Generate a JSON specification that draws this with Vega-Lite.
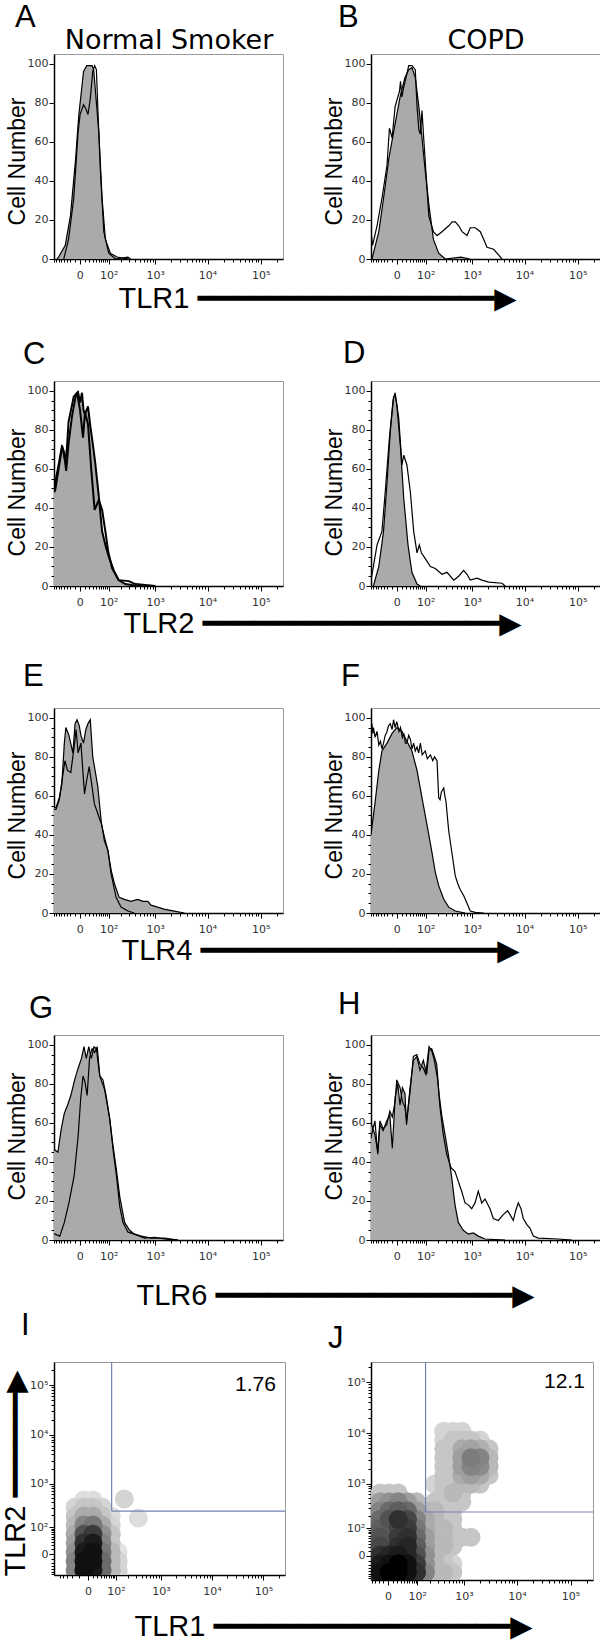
{
"$schema": "https://vega.github.io/schema/vega-lite/v6.json",
"autosize": {"type": "pad"},
"padding": {"top": 1, "left": 0, "right": 0, "bottom": 0},
"background": "white",
"datasets": {
"Ac": [{"x":-67,"y":0},{"x":-60,"y":1},{"x":-35,"y":7},{"x":-20,"y":22},{"x":-8,"y":51},{"x":-2,"y":73},{"x":7,"y":96},{"x":14,"y":99},{"x":28,"y":99},{"x":33,"y":97},{"x":51,"y":65},{"x":65,"y":31},{"x":81,"y":10},{"x":110,"y":3},{"x":160,"y":1},{"x":293,"y":0}],
"At": [{"x":-40,"y":0},{"x":-25,"y":10},{"x":-12,"y":31},{"x":-3,"y":65},{"x":0.5,"y":74},{"x":7,"y":79},{"x":12,"y":77},{"x":17,"y":74},{"x":23,"y":82},{"x":30,"y":96},{"x":36,"y":99},{"x":42,"y":97},{"x":48,"y":75},{"x":58,"y":44},{"x":73,"y":14},{"x":100,"y":3},{"x":147,"y":0},{"x":280,"y":1},{"x":320,"y":0}],
"Bc": [{"x":-77,"y":0},{"x":-47,"y":14},{"x":-31,"y":31},{"x":-16,"y":52},{"x":0,"y":74},{"x":7,"y":84},{"x":17,"y":93},{"x":27,"y":97},{"x":37,"y":98},{"x":49,"y":93},{"x":64,"y":78},{"x":79,"y":62},{"x":97,"y":45},{"x":120,"y":28},{"x":155,"y":10},{"x":205,"y":3},{"x":285,"y":0},{"x":600,"y":1},{"x":900,"y":0}],
"Bt": [{"x":-82,"y":14},{"x":-74,"y":7},{"x":-54,"y":17},{"x":-36,"y":31},{"x":-21,"y":48},{"x":-15,"y":67},{"x":-9,"y":62},{"x":-3,"y":78},{"x":5,"y":86},{"x":7,"y":91},{"x":10,"y":83},{"x":14,"y":88},{"x":22,"y":95},{"x":27,"y":99},{"x":37,"y":99},{"x":49,"y":97},{"x":56,"y":78},{"x":64,"y":66},{"x":71,"y":64},{"x":79,"y":76},{"x":88,"y":62},{"x":120,"y":22},{"x":155,"y":14},{"x":188,"y":12},{"x":243,"y":14},{"x":338,"y":17},{"x":400,"y":19},{"x":462,"y":19},{"x":542,"y":17},{"x":633,"y":14},{"x":794,"y":12},{"x":920,"y":16},{"x":1150,"y":16},{"x":1440,"y":14},{"x":1680,"y":10},{"x":1940,"y":6},{"x":2600,"y":5},{"x":3240,"y":2},{"x":3750,"y":0}],
"Cc": [{"x":-82,"y":48},{"x":-76,"y":49},{"x":-60,"y":60},{"x":-46,"y":71},{"x":-40,"y":69},{"x":-35,"y":63},{"x":-32,"y":59},{"x":-25,"y":73},{"x":-16,"y":87},{"x":-8,"y":97},{"x":-3,"y":99},{"x":0.5,"y":94},{"x":4,"y":99},{"x":7,"y":90},{"x":10,"y":88},{"x":17,"y":92},{"x":23,"y":82},{"x":30,"y":73},{"x":38,"y":63},{"x":51,"y":46},{"x":65,"y":28},{"x":81,"y":21},{"x":100,"y":15},{"x":134,"y":8},{"x":175,"y":3},{"x":246,"y":1},{"x":342,"y":0.5},{"x":550,"y":0}],
"Ct": [{"x":-82,"y":50},{"x":-60,"y":62},{"x":-46,"y":72},{"x":-35,"y":64},{"x":-30,"y":70},{"x":-25,"y":84},{"x":-12,"y":97},{"x":-5,"y":99},{"x":0.5,"y":90},{"x":6,"y":76},{"x":10,"y":89},{"x":17,"y":83},{"x":26,"y":59},{"x":36,"y":39},{"x":51,"y":44},{"x":65,"y":39},{"x":81,"y":28},{"x":96,"y":18},{"x":122,"y":9},{"x":175,"y":3},{"x":293,"y":2.5},{"x":400,"y":1},{"x":1010,"y":0}],
"Dc": [{"x":-70,"y":0},{"x":-47,"y":10},{"x":-31,"y":28},{"x":-21,"y":53},{"x":-13,"y":79},{"x":-6,"y":97},{"x":-3,"y":98},{"x":0,"y":93},{"x":7,"y":71},{"x":14,"y":45},{"x":25,"y":21},{"x":37,"y":7},{"x":56,"y":1},{"x":71,"y":0}],
"Dt": [{"x":-82,"y":3},{"x":-70,"y":10},{"x":-54,"y":21},{"x":-36,"y":28},{"x":-26,"y":48},{"x":-15,"y":76},{"x":-7,"y":95},{"x":-3,"y":99},{"x":3.5,"y":86},{"x":10,"y":62},{"x":14,"y":67},{"x":22,"y":62},{"x":32,"y":48},{"x":43,"y":28},{"x":56,"y":17},{"x":66,"y":21},{"x":76,"y":17},{"x":97,"y":14},{"x":131,"y":10},{"x":171,"y":9},{"x":243,"y":6},{"x":311,"y":7},{"x":430,"y":3},{"x":540,"y":5},{"x":680,"y":8},{"x":794,"y":6},{"x":920,"y":3},{"x":1240,"y":4},{"x":1550,"y":3},{"x":2100,"y":2},{"x":3750,"y":1.4},{"x":4300,"y":0}],
"Ec": [{"x":-82,"y":54},{"x":-72,"y":54},{"x":-57,"y":59},{"x":-47,"y":66},{"x":-38,"y":87},{"x":-33,"y":95},{"x":-24,"y":91},{"x":-14,"y":82},{"x":-9,"y":97},{"x":-5,"y":99},{"x":-1,"y":96},{"x":2,"y":91},{"x":7,"y":87},{"x":12,"y":94},{"x":17,"y":97},{"x":23,"y":99},{"x":30,"y":80},{"x":47,"y":65},{"x":61,"y":47},{"x":76,"y":37},{"x":95,"y":32},{"x":115,"y":22},{"x":139,"y":15},{"x":180,"y":8},{"x":235,"y":7},{"x":327,"y":6},{"x":449,"y":7},{"x":573,"y":6},{"x":720,"y":6},{"x":830,"y":4},{"x":1120,"y":3},{"x":1480,"y":2},{"x":2340,"y":1},{"x":3650,"y":0}],
"Et": [{"x":-82,"y":53},{"x":-72,"y":53},{"x":-57,"y":58},{"x":-44,"y":70},{"x":-36,"y":78},{"x":-28,"y":73},{"x":-19,"y":72},{"x":-10,"y":87},{"x":-7,"y":94},{"x":-3,"y":82},{"x":2,"y":87},{"x":9,"y":61},{"x":14,"y":68},{"x":20,"y":75},{"x":27,"y":66},{"x":35,"y":56},{"x":47,"y":51},{"x":61,"y":46},{"x":76,"y":39},{"x":95,"y":32},{"x":115,"y":20},{"x":152,"y":8},{"x":198,"y":3},{"x":280,"y":1},{"x":382,"y":0}],
"Fc": [{"x":-82,"y":40},{"x":-77,"y":44},{"x":-62,"y":57},{"x":-47,"y":73},{"x":-36,"y":83},{"x":-21,"y":87},{"x":-9,"y":92},{"x":0,"y":95},{"x":10,"y":93},{"x":22,"y":88},{"x":37,"y":83},{"x":56,"y":73},{"x":79,"y":59},{"x":108,"y":45},{"x":143,"y":31},{"x":171,"y":21},{"x":205,"y":14},{"x":265,"y":7},{"x":338,"y":3},{"x":462,"y":1},{"x":730,"y":0}],
"Ft": [{"x":-82,"y":98},{"x":-79,"y":94},{"x":-77,"y":97},{"x":-73,"y":92},{"x":-70,"y":95},{"x":-62,"y":90},{"x":-54,"y":93},{"x":-47,"y":86},{"x":-41,"y":88},{"x":-36,"y":84},{"x":-31,"y":87},{"x":-26,"y":91},{"x":-21,"y":93},{"x":-17,"y":96},{"x":-13,"y":97},{"x":-9,"y":94},{"x":-6,"y":99},{"x":-3,"y":95},{"x":0,"y":98},{"x":4,"y":93},{"x":7,"y":95},{"x":11,"y":90},{"x":14,"y":92},{"x":18,"y":87},{"x":22,"y":87},{"x":27,"y":91},{"x":32,"y":89},{"x":37,"y":84},{"x":43,"y":87},{"x":49,"y":83},{"x":56,"y":85},{"x":63,"y":82},{"x":71,"y":87},{"x":80,"y":81},{"x":97,"y":83},{"x":110,"y":79},{"x":131,"y":81},{"x":150,"y":78},{"x":164,"y":80},{"x":188,"y":78},{"x":195,"y":70},{"x":205,"y":59},{"x":220,"y":58},{"x":235,"y":62},{"x":265,"y":64},{"x":280,"y":60},{"x":296,"y":57},{"x":338,"y":42},{"x":393,"y":31},{"x":462,"y":19},{"x":520,"y":15},{"x":580,"y":12},{"x":680,"y":9},{"x":794,"y":5},{"x":920,"y":1},{"x":1150,"y":0.3},{"x":1680,"y":0}],
"Gc": [{"x":-82,"y":46},{"x":-76,"y":46},{"x":-63,"y":45},{"x":-49,"y":57},{"x":-38,"y":65},{"x":-28,"y":69},{"x":-19,"y":74},{"x":-10,"y":82},{"x":-3,"y":88},{"x":3,"y":93},{"x":8,"y":99},{"x":13,"y":93},{"x":19,"y":99},{"x":26,"y":93},{"x":34,"y":99},{"x":42,"y":98},{"x":55,"y":84},{"x":77,"y":77},{"x":106,"y":62},{"x":129,"y":48},{"x":155,"y":36},{"x":186,"y":22},{"x":238,"y":9},{"x":305,"y":5},{"x":385,"y":3},{"x":533,"y":2},{"x":840,"y":1},{"x":1520,"y":1},{"x":2760,"y":0}],
"Gt": [{"x":-82,"y":3},{"x":-76,"y":3},{"x":-55,"y":2},{"x":-38,"y":9},{"x":-24,"y":19},{"x":-11,"y":33},{"x":-3,"y":53},{"x":1.5,"y":72},{"x":6,"y":84},{"x":10,"y":81},{"x":15,"y":74},{"x":21,"y":93},{"x":28,"y":98},{"x":36,"y":96},{"x":45,"y":99},{"x":55,"y":84},{"x":69,"y":82},{"x":85,"y":74},{"x":106,"y":62},{"x":129,"y":46},{"x":155,"y":33},{"x":186,"y":17},{"x":219,"y":9},{"x":282,"y":4},{"x":385,"y":3},{"x":620,"y":1},{"x":985,"y":1.4},{"x":1520,"y":0.5},{"x":2760,"y":0}],
"Hc": [{"x":-82,"y":59},{"x":-79,"y":59},{"x":-63,"y":54},{"x":-51,"y":45},{"x":-43,"y":59},{"x":-32,"y":56},{"x":-22,"y":61},{"x":-14,"y":64},{"x":-8.5,"y":47},{"x":-3,"y":73},{"x":1.6,"y":80},{"x":6,"y":69},{"x":11,"y":78},{"x":17,"y":75},{"x":21,"y":59},{"x":31,"y":78},{"x":42,"y":92},{"x":55,"y":94},{"x":69,"y":87},{"x":86,"y":92},{"x":106,"y":85},{"x":121,"y":97},{"x":141,"y":98},{"x":163,"y":94},{"x":185,"y":90},{"x":208,"y":75},{"x":239,"y":64},{"x":282,"y":54},{"x":331,"y":44},{"x":390,"y":32},{"x":456,"y":18},{"x":532,"y":9},{"x":670,"y":5},{"x":841,"y":3},{"x":1054,"y":3.6},{"x":1318,"y":2},{"x":1775,"y":0.5},{"x":4272,"y":0}],
"Ht": [{"x":-82,"y":52},{"x":-79,"y":54},{"x":-63,"y":61},{"x":-51,"y":44},{"x":-43,"y":61},{"x":-32,"y":57},{"x":-22,"y":59},{"x":-14,"y":66},{"x":-8.5,"y":63},{"x":-3,"y":71},{"x":0,"y":82},{"x":6,"y":78},{"x":11,"y":71},{"x":17,"y":68},{"x":21,"y":61},{"x":31,"y":76},{"x":42,"y":94},{"x":55,"y":95},{"x":69,"y":90},{"x":86,"y":88},{"x":100,"y":85},{"x":121,"y":99},{"x":141,"y":97},{"x":163,"y":92},{"x":195,"y":82},{"x":219,"y":68},{"x":259,"y":54},{"x":306,"y":44},{"x":377,"y":37},{"x":456,"y":35},{"x":532,"y":30},{"x":622,"y":25},{"x":724,"y":19},{"x":841,"y":18},{"x":981,"y":16},{"x":1138,"y":19},{"x":1318,"y":25},{"x":1533,"y":19},{"x":1775,"y":21},{"x":2212,"y":16},{"x":2559,"y":11},{"x":3184,"y":10},{"x":3956,"y":13},{"x":4804,"y":15},{"x":5308,"y":13},{"x":6128,"y":10},{"x":6800,"y":15},{"x":7616,"y":19},{"x":8572,"y":16},{"x":9468,"y":11},{"x":10976,"y":8},{"x":12668,"y":6},{"x":14616,"y":2},{"x":18144,"y":1},{"x":43120,"y":0.5},{"x":77080,"y":0}],
"Id": [
{"x":-31,"y":-43,"d":0.45},{"x":-8,"y":-43,"d":0.95},{"x":10,"y":-43,"d":0.9},{"x":35,"y":-43,"d":0.55},{"x":73,"y":-43,"d":0.25},{"x":114,"y":-43,"d":0.15},
{"x":-31,"y":-15,"d":0.45},{"x":-8,"y":-15,"d":0.95},{"x":10,"y":-15,"d":0.95},{"x":35,"y":-15,"d":0.55},{"x":73,"y":-15,"d":0.25},{"x":114,"y":-15,"d":0.15},
{"x":-31,"y":4,"d":0.4},{"x":-8,"y":4,"d":0.9},{"x":10,"y":4,"d":0.95},{"x":35,"y":4,"d":0.5},{"x":73,"y":4,"d":0.25},{"x":114,"y":4,"d":0.1},
{"x":-31,"y":27,"d":0.35},{"x":-8,"y":27,"d":0.8},{"x":10,"y":27,"d":0.9},{"x":35,"y":27,"d":0.45},{"x":73,"y":27,"d":0.2},
{"x":-31,"y":61,"d":0.3},{"x":-8,"y":61,"d":0.65},{"x":10,"y":61,"d":0.75},{"x":35,"y":61,"d":0.4},{"x":73,"y":61,"d":0.2},
{"x":-31,"y":114,"d":0.25},{"x":-8,"y":114,"d":0.45},{"x":10,"y":114,"d":0.5},{"x":35,"y":114,"d":0.3},{"x":73,"y":114,"d":0.15},
{"x":-31,"y":193,"d":0.2},{"x":-8,"y":193,"d":0.3},{"x":10,"y":193,"d":0.3},{"x":35,"y":193,"d":0.2},{"x":73,"y":193,"d":0.12},
{"x":-31,"y":314,"d":0.15},{"x":-8,"y":314,"d":0.2},{"x":10,"y":314,"d":0.2},{"x":35,"y":314,"d":0.15},
{"x":-8,"y":448,"d":0.12},{"x":10,"y":448,"d":0.12},
{"x":162,"y":472,"d":0.15},{"x":338,"y":173,"d":0.12}],
"Jd": [
{"x":-43,"y":-44,"d":0.85},{"x":-16,"y":-44,"d":0.95},{"x":2,"y":-44,"d":1},{"x":22,"y":-44,"d":1},{"x":52,"y":-44,"d":0.95},{"x":96,"y":-44,"d":0.8},{"x":160,"y":-44,"d":0.45},{"x":255,"y":-44,"d":0.25},{"x":396,"y":-44,"d":0.25},{"x":603,"y":-44,"d":0.2},
{"x":-43,"y":-17,"d":0.8},{"x":-16,"y":-17,"d":0.9},{"x":2,"y":-17,"d":0.95},{"x":22,"y":-17,"d":1},{"x":52,"y":-17,"d":0.95},{"x":96,"y":-17,"d":0.75},{"x":160,"y":-17,"d":0.4},{"x":255,"y":-17,"d":0.25},{"x":396,"y":-17,"d":0.2},{"x":603,"y":-17,"d":0.15},
{"x":-43,"y":2,"d":0.7},{"x":-16,"y":2,"d":0.8},{"x":2,"y":2,"d":0.85},{"x":22,"y":2,"d":0.9},{"x":52,"y":2,"d":0.85},{"x":96,"y":2,"d":0.65},{"x":160,"y":2,"d":0.4},{"x":255,"y":2,"d":0.25},{"x":396,"y":2,"d":0.2},
{"x":-43,"y":22,"d":0.65},{"x":-16,"y":22,"d":0.7},{"x":2,"y":22,"d":0.65},{"x":22,"y":22,"d":0.8},{"x":52,"y":22,"d":0.85},{"x":96,"y":22,"d":0.6},{"x":160,"y":22,"d":0.35},{"x":255,"y":22,"d":0.25},{"x":396,"y":22,"d":0.25},{"x":603,"y":22,"d":0.2},
{"x":-43,"y":53,"d":0.6},{"x":-16,"y":53,"d":0.65},{"x":2,"y":53,"d":0.55},{"x":22,"y":53,"d":0.75},{"x":52,"y":53,"d":0.8},{"x":96,"y":53,"d":0.55},{"x":160,"y":53,"d":0.35},{"x":255,"y":53,"d":0.25},{"x":396,"y":53,"d":0.25},{"x":603,"y":53,"d":0.2},{"x":908,"y":53,"d":0.2},{"x":1360,"y":53,"d":0.2},
{"x":-43,"y":98,"d":0.55},{"x":-16,"y":98,"d":0.6},{"x":2,"y":98,"d":0.6},{"x":22,"y":98,"d":0.7},{"x":52,"y":98,"d":0.75},{"x":96,"y":98,"d":0.5},{"x":160,"y":98,"d":0.3},{"x":255,"y":98,"d":0.25},{"x":396,"y":98,"d":0.25},{"x":603,"y":98,"d":0.2},
{"x":-43,"y":166,"d":0.45},{"x":-16,"y":166,"d":0.55},{"x":2,"y":166,"d":0.65},{"x":22,"y":166,"d":0.8},{"x":52,"y":166,"d":0.7},{"x":96,"y":166,"d":0.45},{"x":160,"y":166,"d":0.3},{"x":255,"y":166,"d":0.25},{"x":396,"y":166,"d":0.2},{"x":603,"y":166,"d":0.2},
{"x":-43,"y":266,"d":0.35},{"x":-16,"y":266,"d":0.45},{"x":2,"y":266,"d":0.55},{"x":22,"y":266,"d":0.6},{"x":52,"y":266,"d":0.55},{"x":96,"y":266,"d":0.35},{"x":160,"y":266,"d":0.25},{"x":255,"y":266,"d":0.25},{"x":396,"y":266,"d":0.2},{"x":603,"y":266,"d":0.2},
{"x":-43,"y":416,"d":0.25},{"x":-16,"y":416,"d":0.35},{"x":2,"y":416,"d":0.4},{"x":22,"y":416,"d":0.45},{"x":52,"y":416,"d":0.35},{"x":96,"y":416,"d":0.25},{"x":255,"y":416,"d":0.2},{"x":396,"y":416,"d":0.2},{"x":603,"y":416,"d":0.2},{"x":908,"y":416,"d":0.2},
{"x":-16,"y":638,"d":0.2},{"x":2,"y":638,"d":0.2},{"x":22,"y":638,"d":0.2},{"x":396,"y":638,"d":0.2},{"x":603,"y":638,"d":0.25},{"x":908,"y":638,"d":0.2},
{"x":255,"y":969,"d":0.15},{"x":396,"y":969,"d":0.2},{"x":603,"y":969,"d":0.2},{"x":908,"y":969,"d":0.25},{"x":1360,"y":969,"d":0.25},{"x":2025,"y":969,"d":0.2},
{"x":396,"y":1462,"d":0.2},{"x":603,"y":1462,"d":0.2},{"x":908,"y":1462,"d":0.3},{"x":1360,"y":1462,"d":0.35},{"x":2025,"y":1462,"d":0.3},{"x":3008,"y":1462,"d":0.2},
{"x":396,"y":2194,"d":0.2},{"x":603,"y":2194,"d":0.2},{"x":908,"y":2194,"d":0.35},{"x":1360,"y":2194,"d":0.45},{"x":2025,"y":2194,"d":0.42},{"x":3008,"y":2194,"d":0.25},
{"x":396,"y":3284,"d":0.2},{"x":603,"y":3284,"d":0.2},{"x":908,"y":3284,"d":0.35},{"x":1360,"y":3284,"d":0.48},{"x":2025,"y":3284,"d":0.45},{"x":3008,"y":3284,"d":0.25},
{"x":396,"y":4908,"d":0.2},{"x":603,"y":4908,"d":0.2},{"x":908,"y":4908,"d":0.3},{"x":1360,"y":4908,"d":0.33},{"x":2025,"y":4908,"d":0.28},{"x":3008,"y":4908,"d":0.2},
{"x":396,"y":7324,"d":0.15},{"x":603,"y":7324,"d":0.2},{"x":908,"y":7324,"d":0.2},{"x":1360,"y":7324,"d":0.2},{"x":2025,"y":7324,"d":0.15},
{"x":396,"y":10916,"d":0.15},{"x":603,"y":10916,"d":0.15},{"x":908,"y":10916,"d":0.15}],
"Ig": [{"x":75,"y":253,"x2":262144,"y2":290400,"pct":"1.76"}],
"Jg": [{"x":160,"y":249,"x2":262144,"y2":246000,"pct":"12.1"}]
},
"columns": 2,
"bounds": "flush",
"spacing": {"row": 122, "column": 86},
"concat": [
 {"width": 229, "height": 205, "title": {"text": "A", "dx": -39, "offset": -8},
  "resolve": {"axis": {"x": "independent"}},
  "layer": [
   {"encoding": {
     "x": {"field": "x", "type": "quantitative", "scale": {"type": "symlog", "constant": 40, "domain": [-82, 262144], "nice": false, "zero": false},
      "axis": {"values": [-80,-70,-60,-50,-40,-30,-20,-10,0,10,20,30,40,50,60,70,80,90,100,200,300,400,500,600,700,800,900,1000,2000,3000,4000,5000,6000,7000,8000,9000,10000,20000,30000,40000,50000,60000,70000,80000,90000,100000,200000],
       "labelExpr": "datum.value == 0 ? '0' : datum.value == 100 ? '10²' : datum.value == 1000 ? '10³' : datum.value == 10000 ? '10⁴' : datum.value == 100000 ? '10⁵' : ''",
       "tickSize": {"condition": {"test": "datum.value == 0 || datum.value == 100 || datum.value == 1000 || datum.value == 10000 || datum.value == 100000", "value": 5}, "value": 3},
       "title": "TLR1 ━━━━━━━━━━━━━━━━━▶", "titleFontSize": 29, "titleX": 64, "titleY": 48, "titleAlign": "left", "titleBaseline": "alphabetic"}},
     "y": {"field": "y", "type": "quantitative", "scale": {"domain": [0, 105], "nice": false},
      "axis": {"values": [0,5,10,15,20,25,30,35,40,45,50,55,60,65,70,75,80,85,90,95,100], "labelExpr": "datum.value % 20 == 0 ? datum.label : ''",
       "tickSize": {"condition": {"test": "datum.value % 20 == 0", "value": 5}, "value": 3},
       "title": "Cell Number", "titleFontSize": 23, "titleX": -37, "titleY": 107, "titleAngle": 270, "titleAlign": "center", "titleBaseline": "middle"}}
    },
    "layer": [
     {"data": {"name": "Ac"}, "mark": {"type": "area", "color": "#aaaaaa", "clip": true}},
     {"data": {"name": "Ac"}, "mark": {"type": "line", "color": "black", "strokeWidth": 1.2, "clip": true}},
     {"data": {"name": "At"}, "mark": {"type": "line", "color": "black", "strokeWidth": 1.2, "clip": true}}
    ]},
   {"data": {"name": "Ac"}, "mark": {"type": "point", "opacity": 0},
    "encoding": {"x": {"field": "x", "type": "quantitative", "axis": {"orient": "top", "labels": false, "ticks": false, "domain": false, "title": "Normal Smoker", "titleFont": "DejaVu Sans", "titleFontSize": 27, "titleX": 114.5, "titleY": -6, "titleAlign": "center", "titleBaseline": "alphabetic"}},
     "y": {"field": "y", "type": "quantitative"}}}
  ]},
 {"width": 229, "height": 205, "title": {"text": "B", "dx": -33, "offset": -8},
  "resolve": {"axis": {"x": "independent"}},
  "layer": [
   {"encoding": {
     "x": {"field": "x", "type": "quantitative", "scale": {"type": "symlog", "constant": 40, "domain": [-82, 262144], "nice": false, "zero": false},
      "axis": {"values": [-80,-70,-60,-50,-40,-30,-20,-10,0,10,20,30,40,50,60,70,80,90,100,200,300,400,500,600,700,800,900,1000,2000,3000,4000,5000,6000,7000,8000,9000,10000,20000,30000,40000,50000,60000,70000,80000,90000,100000,200000],
       "labelExpr": "datum.value == 0 ? '0' : datum.value == 100 ? '10²' : datum.value == 1000 ? '10³' : datum.value == 10000 ? '10⁴' : datum.value == 100000 ? '10⁵' : ''",
       "tickSize": {"condition": {"test": "datum.value == 0 || datum.value == 100 || datum.value == 1000 || datum.value == 10000 || datum.value == 100000", "value": 5}, "value": 3},
       "title": null}},
     "y": {"field": "y", "type": "quantitative", "scale": {"domain": [0, 105], "nice": false},
      "axis": {"values": [0,5,10,15,20,25,30,35,40,45,50,55,60,65,70,75,80,85,90,95,100], "labelExpr": "datum.value % 20 == 0 ? datum.label : ''",
       "tickSize": {"condition": {"test": "datum.value % 20 == 0", "value": 5}, "value": 3},
       "title": "Cell Number", "titleFontSize": 23, "titleX": -37, "titleY": 107, "titleAngle": 270, "titleAlign": "center", "titleBaseline": "middle"}}
    },
    "layer": [
     {"data": {"name": "Bc"}, "mark": {"type": "area", "color": "#aaaaaa", "clip": true}},
     {"data": {"name": "Bc"}, "mark": {"type": "line", "color": "black", "strokeWidth": 1.2, "clip": true}},
     {"data": {"name": "Bt"}, "mark": {"type": "line", "color": "black", "strokeWidth": 1.2, "clip": true}}
    ]},
   {"data": {"name": "Bc"}, "mark": {"type": "point", "opacity": 0},
    "encoding": {"x": {"field": "x", "type": "quantitative", "axis": {"orient": "top", "labels": false, "ticks": false, "domain": false, "title": "COPD", "titleFont": "DejaVu Sans", "titleFontSize": 27, "titleX": 114.5, "titleY": -6, "titleAlign": "center", "titleBaseline": "alphabetic"}},
     "y": {"field": "y", "type": "quantitative"}}}
  ]},
 {"width": 229, "height": 205, "title": {"text": "C", "dx": -31, "offset": 10},
  "encoding": {
   "x": {"field": "x", "type": "quantitative", "scale": {"type": "symlog", "constant": 40, "domain": [-82, 262144], "nice": false, "zero": false},
    "axis": {"values": [-80,-70,-60,-50,-40,-30,-20,-10,0,10,20,30,40,50,60,70,80,90,100,200,300,400,500,600,700,800,900,1000,2000,3000,4000,5000,6000,7000,8000,9000,10000,20000,30000,40000,50000,60000,70000,80000,90000,100000,200000],
     "labelExpr": "datum.value == 0 ? '0' : datum.value == 100 ? '10²' : datum.value == 1000 ? '10³' : datum.value == 10000 ? '10⁴' : datum.value == 100000 ? '10⁵' : ''",
     "tickSize": {"condition": {"test": "datum.value == 0 || datum.value == 100 || datum.value == 1000 || datum.value == 10000 || datum.value == 100000", "value": 5}, "value": 3},
     "title": "TLR2 ━━━━━━━━━━━━━━━━━▶", "titleFontSize": 29, "titleX": 69, "titleY": 46, "titleAlign": "left", "titleBaseline": "alphabetic"}},
   "y": {"field": "y", "type": "quantitative", "scale": {"domain": [0, 105], "nice": false},
    "axis": {"values": [0,5,10,15,20,25,30,35,40,45,50,55,60,65,70,75,80,85,90,95,100], "labelExpr": "datum.value % 20 == 0 ? datum.label : ''",
     "tickSize": {"condition": {"test": "datum.value % 20 == 0", "value": 5}, "value": 3},
     "title": "Cell Number", "titleFontSize": 23, "titleX": -37, "titleY": 111, "titleAngle": 270, "titleAlign": "center", "titleBaseline": "middle"}}
  },
  "layer": [
   {"data": {"name": "Cc"}, "mark": {"type": "area", "color": "#aaaaaa", "clip": true}},
   {"data": {"name": "Cc"}, "mark": {"type": "line", "color": "black", "strokeWidth": 2, "clip": true}},
   {"data": {"name": "Ct"}, "mark": {"type": "line", "color": "black", "strokeWidth": 2, "clip": true}}
  ]},
 {"width": 229, "height": 205, "title": {"text": "D", "dx": -28, "offset": 11},
  "encoding": {
   "x": {"field": "x", "type": "quantitative", "scale": {"type": "symlog", "constant": 40, "domain": [-82, 262144], "nice": false, "zero": false},
    "axis": {"values": [-80,-70,-60,-50,-40,-30,-20,-10,0,10,20,30,40,50,60,70,80,90,100,200,300,400,500,600,700,800,900,1000,2000,3000,4000,5000,6000,7000,8000,9000,10000,20000,30000,40000,50000,60000,70000,80000,90000,100000,200000],
     "labelExpr": "datum.value == 0 ? '0' : datum.value == 100 ? '10²' : datum.value == 1000 ? '10³' : datum.value == 10000 ? '10⁴' : datum.value == 100000 ? '10⁵' : ''",
     "tickSize": {"condition": {"test": "datum.value == 0 || datum.value == 100 || datum.value == 1000 || datum.value == 10000 || datum.value == 100000", "value": 5}, "value": 3},
     "title": null}},
   "y": {"field": "y", "type": "quantitative", "scale": {"domain": [0, 105], "nice": false},
    "axis": {"values": [0,5,10,15,20,25,30,35,40,45,50,55,60,65,70,75,80,85,90,95,100], "labelExpr": "datum.value % 20 == 0 ? datum.label : ''",
     "tickSize": {"condition": {"test": "datum.value % 20 == 0", "value": 5}, "value": 3},
     "title": "Cell Number", "titleFontSize": 23, "titleX": -37, "titleY": 111, "titleAngle": 270, "titleAlign": "center", "titleBaseline": "middle"}}
  },
  "layer": [
   {"data": {"name": "Dc"}, "mark": {"type": "area", "color": "#aaaaaa", "clip": true}},
   {"data": {"name": "Dc"}, "mark": {"type": "line", "color": "black", "strokeWidth": 1.2, "clip": true}},
   {"data": {"name": "Dt"}, "mark": {"type": "line", "color": "black", "strokeWidth": 1.2, "clip": true}}
  ]},
 {"width": 229, "height": 205, "title": {"text": "E", "dx": -31, "offset": 15},
  "encoding": {
   "x": {"field": "x", "type": "quantitative", "scale": {"type": "symlog", "constant": 40, "domain": [-82, 262144], "nice": false, "zero": false},
    "axis": {"values": [-80,-70,-60,-50,-40,-30,-20,-10,0,10,20,30,40,50,60,70,80,90,100,200,300,400,500,600,700,800,900,1000,2000,3000,4000,5000,6000,7000,8000,9000,10000,20000,30000,40000,50000,60000,70000,80000,90000,100000,200000],
     "labelExpr": "datum.value == 0 ? '0' : datum.value == 100 ? '10²' : datum.value == 1000 ? '10³' : datum.value == 10000 ? '10⁴' : datum.value == 100000 ? '10⁵' : ''",
     "tickSize": {"condition": {"test": "datum.value == 0 || datum.value == 100 || datum.value == 1000 || datum.value == 10000 || datum.value == 100000", "value": 5}, "value": 3},
     "title": "TLR4 ━━━━━━━━━━━━━━━━━▶", "titleFontSize": 29, "titleX": 67, "titleY": 46, "titleAlign": "left", "titleBaseline": "alphabetic"}},
   "y": {"field": "y", "type": "quantitative", "scale": {"domain": [0, 105], "nice": false},
    "axis": {"values": [0,5,10,15,20,25,30,35,40,45,50,55,60,65,70,75,80,85,90,95,100], "labelExpr": "datum.value % 20 == 0 ? datum.label : ''",
     "tickSize": {"condition": {"test": "datum.value % 20 == 0", "value": 5}, "value": 3},
     "title": "Cell Number", "titleFontSize": 23, "titleX": -37, "titleY": 107, "titleAngle": 270, "titleAlign": "center", "titleBaseline": "middle"}}
  },
  "layer": [
   {"data": {"name": "Ec"}, "mark": {"type": "area", "color": "#aaaaaa", "clip": true}},
   {"data": {"name": "Ec"}, "mark": {"type": "line", "color": "black", "strokeWidth": 1.2, "clip": true}},
   {"data": {"name": "Et"}, "mark": {"type": "line", "color": "black", "strokeWidth": 1.2, "clip": true}}
  ]},
 {"width": 229, "height": 205, "title": {"text": "F", "dx": -30, "offset": 15},
  "encoding": {
   "x": {"field": "x", "type": "quantitative", "scale": {"type": "symlog", "constant": 40, "domain": [-82, 262144], "nice": false, "zero": false},
    "axis": {"values": [-80,-70,-60,-50,-40,-30,-20,-10,0,10,20,30,40,50,60,70,80,90,100,200,300,400,500,600,700,800,900,1000,2000,3000,4000,5000,6000,7000,8000,9000,10000,20000,30000,40000,50000,60000,70000,80000,90000,100000,200000],
     "labelExpr": "datum.value == 0 ? '0' : datum.value == 100 ? '10²' : datum.value == 1000 ? '10³' : datum.value == 10000 ? '10⁴' : datum.value == 100000 ? '10⁵' : ''",
     "tickSize": {"condition": {"test": "datum.value == 0 || datum.value == 100 || datum.value == 1000 || datum.value == 10000 || datum.value == 100000", "value": 5}, "value": 3},
     "title": null}},
   "y": {"field": "y", "type": "quantitative", "scale": {"domain": [0, 105], "nice": false},
    "axis": {"values": [0,5,10,15,20,25,30,35,40,45,50,55,60,65,70,75,80,85,90,95,100], "labelExpr": "datum.value % 20 == 0 ? datum.label : ''",
     "tickSize": {"condition": {"test": "datum.value % 20 == 0", "value": 5}, "value": 3},
     "title": "Cell Number", "titleFontSize": 23, "titleX": -37, "titleY": 107, "titleAngle": 270, "titleAlign": "center", "titleBaseline": "middle"}}
  },
  "layer": [
   {"data": {"name": "Fc"}, "mark": {"type": "area", "color": "#aaaaaa", "clip": true}},
   {"data": {"name": "Fc"}, "mark": {"type": "line", "color": "black", "strokeWidth": 1.2, "clip": true}},
   {"data": {"name": "Ft"}, "mark": {"type": "line", "color": "black", "strokeWidth": 1.2, "clip": true}}
  ]},
 {"width": 229, "height": 205, "title": {"text": "G", "dx": -25, "offset": 10},
  "encoding": {
   "x": {"field": "x", "type": "quantitative", "scale": {"type": "symlog", "constant": 40, "domain": [-82, 262144], "nice": false, "zero": false},
    "axis": {"values": [-80,-70,-60,-50,-40,-30,-20,-10,0,10,20,30,40,50,60,70,80,90,100,200,300,400,500,600,700,800,900,1000,2000,3000,4000,5000,6000,7000,8000,9000,10000,20000,30000,40000,50000,60000,70000,80000,90000,100000,200000],
     "labelExpr": "datum.value == 0 ? '0' : datum.value == 100 ? '10²' : datum.value == 1000 ? '10³' : datum.value == 10000 ? '10⁴' : datum.value == 100000 ? '10⁵' : ''",
     "tickSize": {"condition": {"test": "datum.value == 0 || datum.value == 100 || datum.value == 1000 || datum.value == 10000 || datum.value == 100000", "value": 5}, "value": 3},
     "title": "TLR6 ━━━━━━━━━━━━━━━━━▶", "titleFontSize": 29, "titleX": 82, "titleY": 64, "titleAlign": "left", "titleBaseline": "alphabetic"}},
   "y": {"field": "y", "type": "quantitative", "scale": {"domain": [0, 105], "nice": false},
    "axis": {"values": [0,5,10,15,20,25,30,35,40,45,50,55,60,65,70,75,80,85,90,95,100], "labelExpr": "datum.value % 20 == 0 ? datum.label : ''",
     "tickSize": {"condition": {"test": "datum.value % 20 == 0", "value": 5}, "value": 3},
     "title": "Cell Number", "titleFontSize": 23, "titleX": -37, "titleY": 101, "titleAngle": 270, "titleAlign": "center", "titleBaseline": "middle"}}
  },
  "layer": [
   {"data": {"name": "Gc"}, "mark": {"type": "area", "color": "#aaaaaa", "clip": true}},
   {"data": {"name": "Gc"}, "mark": {"type": "line", "color": "black", "strokeWidth": 1.2, "clip": true}},
   {"data": {"name": "Gt"}, "mark": {"type": "line", "color": "black", "strokeWidth": 1.2, "clip": true}}
  ]},
 {"width": 229, "height": 205, "title": {"text": "H", "dx": -33, "offset": 14},
  "encoding": {
   "x": {"field": "x", "type": "quantitative", "scale": {"type": "symlog", "constant": 40, "domain": [-82, 262144], "nice": false, "zero": false},
    "axis": {"values": [-80,-70,-60,-50,-40,-30,-20,-10,0,10,20,30,40,50,60,70,80,90,100,200,300,400,500,600,700,800,900,1000,2000,3000,4000,5000,6000,7000,8000,9000,10000,20000,30000,40000,50000,60000,70000,80000,90000,100000,200000],
     "labelExpr": "datum.value == 0 ? '0' : datum.value == 100 ? '10²' : datum.value == 1000 ? '10³' : datum.value == 10000 ? '10⁴' : datum.value == 100000 ? '10⁵' : ''",
     "tickSize": {"condition": {"test": "datum.value == 0 || datum.value == 100 || datum.value == 1000 || datum.value == 10000 || datum.value == 100000", "value": 5}, "value": 3},
     "title": null}},
   "y": {"field": "y", "type": "quantitative", "scale": {"domain": [0, 105], "nice": false},
    "axis": {"values": [0,5,10,15,20,25,30,35,40,45,50,55,60,65,70,75,80,85,90,95,100], "labelExpr": "datum.value % 20 == 0 ? datum.label : ''",
     "tickSize": {"condition": {"test": "datum.value % 20 == 0", "value": 5}, "value": 3},
     "title": "Cell Number", "titleFontSize": 23, "titleX": -37, "titleY": 101, "titleAngle": 270, "titleAlign": "center", "titleBaseline": "middle"}}
  },
  "layer": [
   {"data": {"name": "Hc"}, "mark": {"type": "area", "color": "#aaaaaa", "clip": true}},
   {"data": {"name": "Hc"}, "mark": {"type": "line", "color": "black", "strokeWidth": 1.2, "clip": true}},
   {"data": {"name": "Ht"}, "mark": {"type": "line", "color": "black", "strokeWidth": 1.2, "clip": true}}
  ]},
 {"width": 231, "height": 213, "title": {"text": "I", "dx": -33, "offset": 19},
  "encoding": {
   "x": {"field": "x", "type": "quantitative", "scale": {"type": "symlog", "constant": 40, "domain": [-142, 262144], "nice": false, "zero": false},
    "axis": {"values": [-100,-80,-60,-40,-20,0,10,20,30,40,50,60,70,80,90,100,200,300,400,500,600,700,800,900,1000,2000,3000,4000,5000,6000,7000,8000,9000,10000,20000,30000,40000,50000,60000,70000,80000,90000,100000,200000],
     "labelExpr": "datum.value == 0 ? '0' : datum.value == 100 ? '10²' : datum.value == 1000 ? '10³' : datum.value == 10000 ? '10⁴' : datum.value == 100000 ? '10⁵' : ''",
     "tickSize": {"condition": {"test": "datum.value == 0 || datum.value == 100 || datum.value == 1000 || datum.value == 10000 || datum.value == 100000", "value": 5}, "value": 3},
     "title": "TLR1 ━━━━━━━━━━━━━━━━━▶", "titleFontSize": 29, "titleX": 80, "titleY": 60, "titleAlign": "left", "titleBaseline": "alphabetic"}},
   "y": {"field": "y", "type": "quantitative", "scale": {"type": "symlog", "constant": 40, "domain": [-65, 290400], "nice": false, "zero": false},
    "axis": {"values": [-60,-50,-40,-30,-20,-10,0,10,20,30,40,50,60,70,80,90,100,200,300,400,500,600,700,800,900,1000,2000,3000,4000,5000,6000,7000,8000,9000,10000,20000,30000,40000,50000,60000,70000,80000,90000,100000,200000],
     "labelExpr": "datum.value == 0 ? '0' : datum.value == 100 ? '10²' : datum.value == 1000 ? '10³' : datum.value == 10000 ? '10⁴' : datum.value == 100000 ? '10⁵' : ''",
     "tickSize": {"condition": {"test": "datum.value == 0 || datum.value == 100 || datum.value == 1000 || datum.value == 10000 || datum.value == 100000", "value": 5}, "value": 3},
     "title": "TLR2 ━━━━━━▶", "titleFontSize": 29, "titleX": -39, "titleY": 214, "titleAngle": 270, "titleAlign": "left", "titleBaseline": "middle"}}
  },
  "layer": [
   {"data": {"name": "Id"}, "mark": {"type": "circle", "size": 360, "opacity": 1, "clip": true},
    "encoding": {"color": {"field": "d", "type": "quantitative", "scale": {"domain": [0, 1], "range": ["#ffffff", "#000000"]}, "legend": null}, "order": {"field": "d", "type": "quantitative"}}},
   {"data": {"name": "Ig"}, "mark": {"type": "rule", "color": "#7581b5", "strokeWidth": 1.2}, "encoding": {"y2": {"field": "y2"}}},
   {"data": {"name": "Ig"}, "mark": {"type": "rule", "color": "#7581b5", "strokeWidth": 1.2}, "encoding": {"x2": {"field": "x2"}}},
   {"data": {"name": "Ig"}, "mark": {"type": "text", "align": "right", "baseline": "middle", "fontSize": 21, "font": "Liberation Sans"},
    "encoding": {"x": {"datum": 175000}, "y": {"datum": 100000}, "text": {"field": "pct"}}}
  ]},
 {"width": 222, "height": 218, "title": {"text": "J", "dx": -43, "offset": 6},
  "encoding": {
   "x": {"field": "x", "type": "quantitative", "scale": {"type": "symlog", "constant": 40, "domain": [-43, 262144], "nice": false, "zero": false},
    "axis": {"values": [-40,-30,-20,-10,0,10,20,30,40,50,60,70,80,90,100,200,300,400,500,600,700,800,900,1000,2000,3000,4000,5000,6000,7000,8000,9000,10000,20000,30000,40000,50000,60000,70000,80000,90000,100000,200000],
     "labelExpr": "datum.value == 0 ? '0' : datum.value == 100 ? '10²' : datum.value == 1000 ? '10³' : datum.value == 10000 ? '10⁴' : datum.value == 100000 ? '10⁵' : ''",
     "tickSize": {"condition": {"test": "datum.value == 0 || datum.value == 100 || datum.value == 1000 || datum.value == 10000 || datum.value == 100000", "value": 5}, "value": 3},
     "title": null}},
   "y": {"field": "y", "type": "quantitative", "scale": {"type": "symlog", "constant": 40, "domain": [-78, 246000], "nice": false, "zero": false},
    "axis": {"values": [-70,-60,-50,-40,-30,-20,-10,0,10,20,30,40,50,60,70,80,90,100,200,300,400,500,600,700,800,900,1000,2000,3000,4000,5000,6000,7000,8000,9000,10000,20000,30000,40000,50000,60000,70000,80000,90000,100000,200000],
     "labelExpr": "datum.value == 0 ? '0' : datum.value == 100 ? '10²' : datum.value == 1000 ? '10³' : datum.value == 10000 ? '10⁴' : datum.value == 100000 ? '10⁵' : ''",
     "tickSize": {"condition": {"test": "datum.value == 0 || datum.value == 100 || datum.value == 1000 || datum.value == 10000 || datum.value == 100000", "value": 5}, "value": 3},
     "title": null}}
  },
  "layer": [
   {"data": {"name": "Jd"}, "mark": {"type": "circle", "size": 360, "opacity": 1, "clip": true},
    "encoding": {"color": {"field": "d", "type": "quantitative", "scale": {"domain": [0, 1], "range": ["#ffffff", "#000000"]}, "legend": null}, "order": {"field": "d", "type": "quantitative"}}},
   {"data": {"name": "Jg"}, "mark": {"type": "rule", "color": "#7581b5", "strokeWidth": 1.2}, "encoding": {"y2": {"field": "y2"}}},
   {"data": {"name": "Jg"}, "mark": {"type": "rule", "color": "#7581b5", "strokeWidth": 1.2}, "encoding": {"x2": {"field": "x2"}}},
   {"data": {"name": "Jg"}, "mark": {"type": "text", "align": "right", "baseline": "middle", "fontSize": 21, "font": "Liberation Sans"},
    "encoding": {"x": {"datum": 185000}, "y": {"datum": 100000}, "text": {"field": "pct"}}}
  ]}
],
"config": {
 "view": {"stroke": "#999999", "strokeWidth": 1},
 "axis": {"domainColor": "black", "domainWidth": 1.5, "tickColor": "black", "tickWidth": 1, "labelFont": "DejaVu Sans", "labelFontSize": 11, "labelColor": "#333333", "grid": false, "titleFont": "Liberation Sans, DejaVu Sans", "titleFontWeight": "normal", "titleColor": "black", "labelOverlap": false, "labelFlush": false, "labelBound": false},
 "axisX": {"labelPadding": 5},
 "axisY": {"labelPadding": 1},
 "title": {"font": "Liberation Sans", "fontSize": 31, "fontWeight": "normal", "color": "black", "anchor": "start", "frame": "group", "baseline": "alphabetic"}
}
}
